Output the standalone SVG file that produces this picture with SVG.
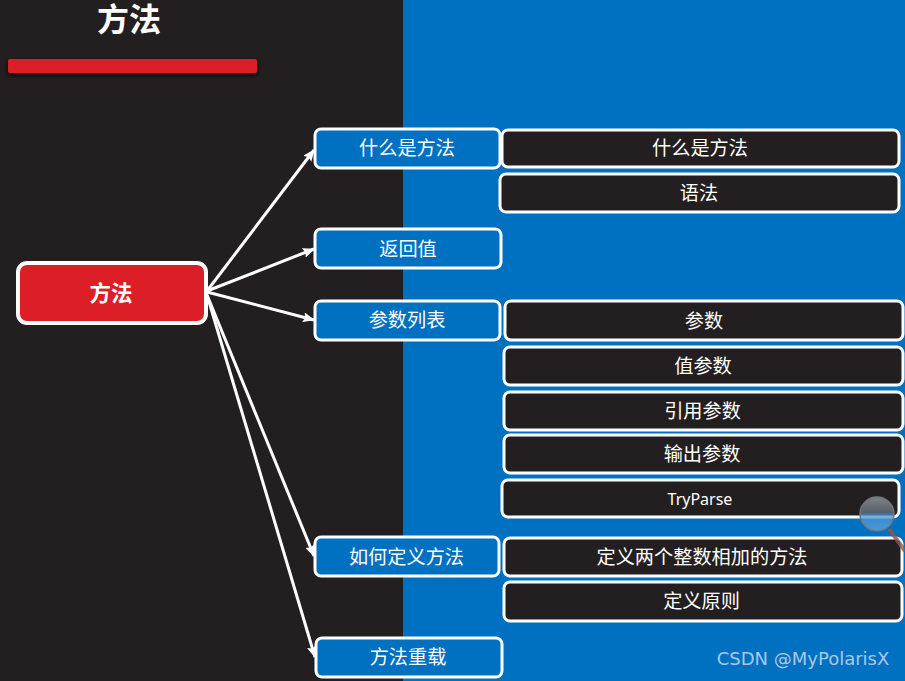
<svg xmlns="http://www.w3.org/2000/svg" width="905" height="681" viewBox="0 0 905 681">
<style>
text{font-family:"Noto Sans CJK SC","Noto Sans",sans-serif;fill:#fff;text-anchor:middle;dominant-baseline:central}
.b{fill:#0070c0;stroke:#fff;stroke-width:3}
.d{fill:#231f20;stroke:#fff;stroke-width:3}
.t{font-size:19.2px}
.c line{stroke:#fff;stroke-width:3}
</style>
<defs>
<marker id="a" markerUnits="userSpaceOnUse" markerWidth="12" markerHeight="10" refX="11" refY="5" orient="auto"><path d="M0 0L12 5L0 10L2 5Z" fill="#fff"/></marker>
<linearGradient id="h" x1="0" y1="0" x2="0" y2="1"><stop offset="0" stop-color="#9aa4ac"/><stop offset=".45" stop-color="#6a7680"/><stop offset=".5" stop-color="#4a90d0"/><stop offset="1" stop-color="#5fa8e0"/></linearGradient>
<filter id="s" x="-5%" y="-50%" width="110%" height="220%"><feGaussianBlur stdDeviation="2"/></filter>
</defs>
<rect width="905" height="681" fill="#0070c0"/>
<rect width="403" height="681" fill="#231f20"/>
<text x="129" y="20" font-size="32" font-weight="700" style="font-family:'Liberation Sans','Noto Sans CJK SC',sans-serif">方法</text>
<rect x="8" y="61" width="249" height="14" rx="2" fill="#111" filter="url(#s)"/>
<rect x="8" y="59" width="249" height="14" rx="2" fill="#dc1f26"/>
<g class="c" id="connectors">
<line x1="207" y1="291" x2="314" y2="150" marker-end="url(#a)"/>
<line x1="207" y1="291" x2="314" y2="249" marker-end="url(#a)"/>
<line x1="207" y1="292" x2="314" y2="320" marker-end="url(#a)"/>
<line x1="207" y1="295" x2="314" y2="556" marker-end="url(#a)"/>
<line x1="207" y1="295" x2="315" y2="657" marker-end="url(#a)"/>
</g>
<g id="root"><rect x="18" y="263" width="188" height="60" rx="9" fill="#dc1f26" stroke="#fff" stroke-width="4"/><text x="111" y="291.5" font-size="21.5" font-weight="700">方法</text></g>
<g id="n1"><rect class="b" x="315" y="129" width="185" height="39" rx="6"/><text class="t" x="407" y="146.5">什么是方法</text></g>
<g id="n2"><rect class="b" x="315" y="229" width="186" height="39" rx="6"/><text class="t" x="408" y="247.5">返回值</text></g>
<g id="n3"><rect class="b" x="315" y="301" width="185" height="39" rx="6"/><text class="t" x="407" y="319">参数列表</text></g>
<g id="n4"><rect class="b" x="315" y="537" width="184" height="39" rx="6"/><text class="t" x="406.5" y="555.5">如何定义方法</text></g>
<g id="n5"><rect class="b" x="316" y="638" width="186" height="39" rx="6"/><text class="t" x="408" y="656">方法重载</text></g>
<g id="d1"><rect class="d" x="502" y="130" width="397" height="37" rx="6"/><text class="t" x="700" y="146.5">什么是方法</text></g>
<g id="d2"><rect class="d" x="500" y="174" width="399" height="38" rx="6"/><text class="t" x="699" y="191.5">语法</text></g>
<g id="d3"><rect class="d" x="505" y="301" width="398" height="39" rx="6"/><text class="t" x="704" y="319.5">参数</text></g>
<g id="d4"><rect class="d" x="504" y="347" width="399" height="38" rx="6"/><text class="t" x="703" y="364.5">值参数</text></g>
<g id="d5"><rect class="d" x="504" y="392" width="399" height="38" rx="6"/><text class="t" x="702.5" y="409.5">引用参数</text></g>
<g id="d6"><rect class="d" x="504" y="435" width="399" height="38" rx="6"/><text class="t" x="702" y="452.5">输出参数</text></g>
<g id="d7"><rect class="d" x="502" y="480" width="397" height="37" rx="6"/><text x="700" y="499" font-size="16" style="font-family:'Noto Sans',sans-serif">TryParse</text></g>
<g id="d8"><rect class="d" x="504" y="538" width="398" height="38" rx="6"/><text class="t" x="702" y="555.5">定义两个整数相加的方法</text></g>
<g id="d9"><rect class="d" x="504" y="582" width="398" height="39" rx="6"/><text class="t" x="701.5" y="599.5">定义原则</text></g>
<path d="M889 529L905 551" stroke="#8a5a50" stroke-opacity=".8" stroke-width="4" fill="none"/>
<circle cx="877" cy="514" r="17" fill="url(#h)" fill-opacity=".75" stroke="#6f767e" stroke-width="1.5"/>
<text x="803" y="658" font-size="18" style="font-family:'DejaVu Sans',sans-serif;fill:#a9c9e6">CSDN @MyPolarisX</text>
</svg>
